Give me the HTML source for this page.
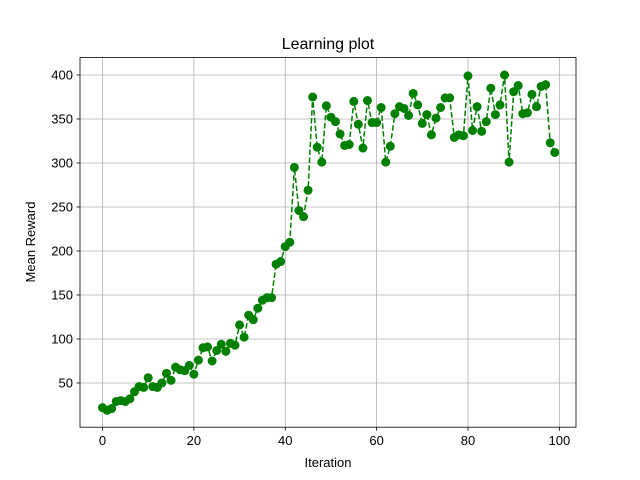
<!DOCTYPE html>
<html><head><meta charset="utf-8">
<style>body{margin:0;background:#fff}svg{display:block;font-family:"Liberation Sans","DejaVu Sans",sans-serif}</style>
</head><body>
<svg id="chart" width="640" height="480" viewBox="0 0 640 480">
<rect width="640" height="480" fill="#fff"/>
<g id="grid"></g>
<g id="ticks"></g>
<g id="series"></g>
<rect x="80" y="57.6" width="496" height="369.6" fill="none" stroke="#000" stroke-width="0.8"/>
<text x="328" y="49" font-size="16" text-anchor="middle">Learning plot</text>
<text x="328" y="467" font-size="13" text-anchor="middle">Iteration</text>
<text x="0" y="0" font-size="13" text-anchor="middle" transform="translate(35,242) rotate(-90)">Mean Reward</text>
</svg>
<script>
const rewards = [22,19,21,29,30,29,32,40,46,45,56,46,45,50,61,53,68,65,64,70,60,76,90,91,75,87,94,86,95,93,116,102,127,122,135,144,147,147,185,188,205,210,295,246,239,269,375,318,301,365,352,347,333,320,321,370,344,317,371,346,346,363,301,319,356,364,362,354,379,366,345,355,332,351,363,374,374,329,332,331,399,337,364,336,347,385,355,366,400,301,381,388,356,357,378,364,387,389,323,312];
const xTicks = [0,20,40,60,80,100];
const yTicks = [50,100,150,200,250,300,350,400];
const NS = "http://www.w3.org/2000/svg";
const xs = v => 102.5 + v * 4.5685;
const ys = v => 383 - (v - 50) * 0.88;
function mk(tag, attrs, parent){const e=document.createElementNS(NS,tag);for(const k in attrs)e.setAttribute(k,attrs[k]);parent.appendChild(e);return e;}
const grid=document.getElementById('grid'), ticks=document.getElementById('ticks'), series=document.getElementById('series');
xTicks.forEach(t=>{
  const x=xs(t);
  const g=mk('line',{x1:x,x2:x,y1:57.6,y2:427.2,stroke:'#b0b0b0','stroke-width':0.8},grid);
  
  
  const tk=mk('line',{x1:x,x2:x,y1:427.2,y2:430.7,stroke:'#000','stroke-width':0.8},ticks);
  
  
  const tx=mk('text',{x:x,y:445,'font-size':13,'text-anchor':'middle'},ticks);
  tx.textContent=t;
  
  
});
yTicks.forEach(t=>{
  const y=ys(t);
  const g=mk('line',{x1:80,x2:576,y1:y,y2:y,stroke:'#b0b0b0','stroke-width':0.8},grid);
  
  
  const tk=mk('line',{x1:76.5,x2:80,y1:y,y2:y,stroke:'#000','stroke-width':0.8},ticks);
  
  
  const tx=mk('text',{x:73,y:y+4.5,'font-size':13,'text-anchor':'end'},ticks);
  tx.textContent=t;
  
  
});
const pts=rewards.map((v,i)=>xs(i).toFixed(2)+','+ys(v).toFixed(2)).join(' ');
const line=mk('polyline',{points:pts,fill:'none',stroke:'#008000','stroke-width':1.5,'stroke-dasharray':'5.5,2.4'},series);


rewards.forEach((v,i)=>{
  const c=mk('circle',{cx:xs(i),cy:ys(v),r:4.5,fill:'#008000'},series);
  
  
});
</script>
</body></html>
